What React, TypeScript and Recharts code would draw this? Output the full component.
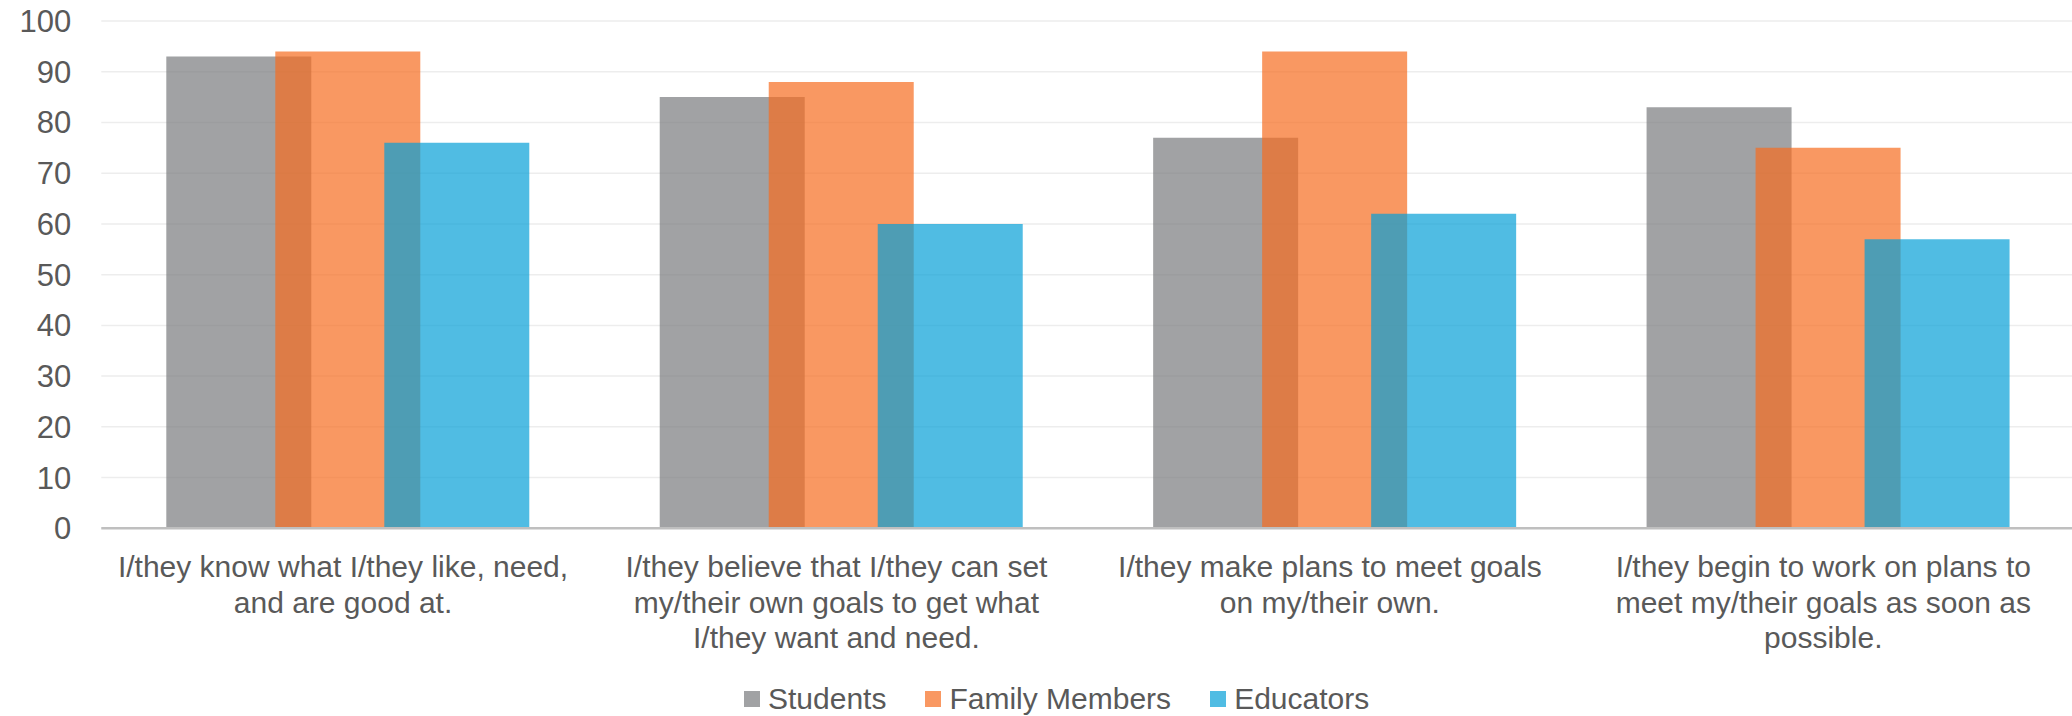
import { Bar, BarChart, CartesianGrid, XAxis, YAxis } from "recharts";

const categories = [
  "I/they know what I/they like, need,\nand are good at.",
  "I/they believe that I/they can set\nmy/their own goals to get what\nI/they want and need.",
  "I/they make plans to meet goals\non my/their own.",
  "I/they begin to work on plans to\nmeet my/their goals as soon as\npossible.",
];
const students = [93, 85, 77, 83];
const familyMembers = [94, 88, 94, 75];
const educators = [76, 60, 62, 57];
const yTicks = [0, 10, 20, 30, 40, 50, 60, 70, 80, 90, 100];

const series = [
  { key: "students", label: "Students", color: "#797A7D" },
  { key: "family", label: "Family Members", color: "#F66C1F" },
  { key: "educators", label: "Educators", color: "#059FD7" },
];

const FONT = '"Liberation Sans", Arial, sans-serif';
const TEXT = "#595959";
const BAR_OPACITY = 0.7;

const data = categories.map((category, i) => ({
  category,
  students: students[i],
  family: familyMembers[i],
  educators: educators[i],
}));

function CategoryTick({ x, y, payload }: { x?: number; y?: number; payload?: { value: string } }) {
  const lines = String(payload?.value ?? "").split("\n");
  return (
    <g transform={`translate(${x},${y})`}>
      <text textAnchor="middle" fill={TEXT} fontSize={30} fontFamily={FONT}>
        {lines.map((line, i) => (
          <tspan key={i} x={-5} dy={i === 0 ? 49 : 35.4}>
            {line}
          </tspan>
        ))}
      </text>
    </g>
  );
}

function ChartLegend() {
  return (
    <div
      style={{
        position: "absolute",
        left: 744,
        top: 682,
        height: 34,
        display: "flex",
        alignItems: "center",
        fontFamily: FONT,
        fontSize: 30,
        lineHeight: "34px",
        color: TEXT,
        whiteSpace: "nowrap",
      }}
    >
      {series.map((s) => (
        <div key={s.key} style={{ display: "flex", alignItems: "center", marginRight: 39 }}>
          <span
            style={{
              width: 16,
              height: 16,
              background: s.color,
              opacity: BAR_OPACITY,
              marginRight: 8,
              display: "inline-block",
            }}
          />
          <span>{s.label}</span>
        </div>
      ))}
    </div>
  );
}

export default function App() {
  return (
    <div
      style={{
        position: "fixed",
        left: 0,
        top: 0,
        width: 2072,
        height: 716,
        overflow: "hidden",
        background: "#fff",
      }}
    >
      <BarChart
        width={2090}
        height={716}
        data={data}
        margin={{ top: 21, right: 15, bottom: 0, left: 0 }}
        barCategoryGap={65}
        barGap={-36}
      >
        <CartesianGrid vertical={false} stroke="#EDEDED" strokeWidth={1.5} />
        <YAxis
          width={101.3}
          domain={[0, 100]}
          ticks={yTicks}
          axisLine={false}
          tickLine={false}
          tickSize={0}
          tickMargin={30}
          tick={{ fill: TEXT, fontSize: 31, fontFamily: FONT }}
        />
        <XAxis
          dataKey="category"
          height={187.7}
          interval={0}
          tickLine={false}
          tickSize={0}
          tickMargin={0}
          axisLine={{ stroke: "#BFBFBF", strokeWidth: 2.5 }}
          tick={<CategoryTick />}
        />
        {series.map((s) => (
          <Bar
            key={s.key}
            dataKey={s.key}
            name={s.label}
            fill={s.color}
            fillOpacity={BAR_OPACITY}
            isAnimationActive={false}
          />
        ))}
      </BarChart>
      <ChartLegend />
    </div>
  );
}
